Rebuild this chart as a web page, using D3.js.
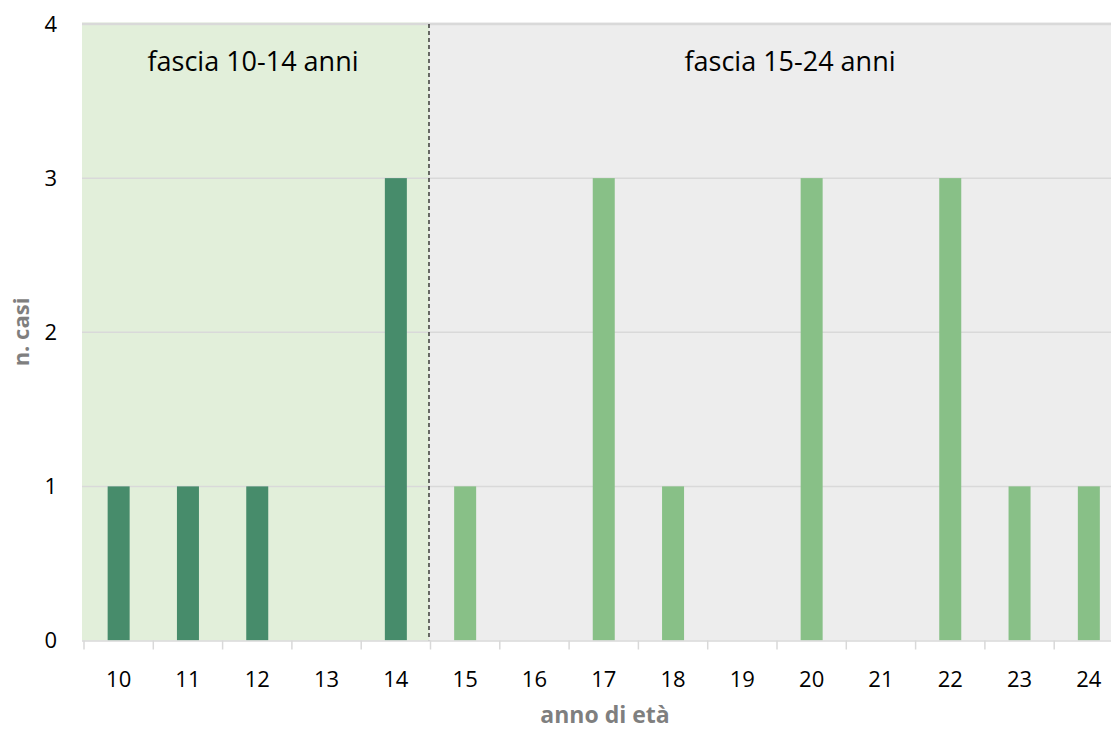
<!DOCTYPE html>
<html>
<head>
<meta charset="utf-8">
<script src="https://cdn.jsdelivr.net/npm/d3@7"></script>
<style>
  html, body { margin: 0; padding: 0; background: #fff; }
  svg { display: block; }
  text { font-family: "Open Sans", "Noto Sans", sans-serif; }
</style>
</head>
<body>
<svg id="chart" width="1111" height="731"></svg>
<script>
const categories = ["10","11","12","13","14","15","16","17","18","19","20","21","22","23","24"];
const values = [1,1,1,0,3,1,0,3,1,0,3,0,3,1,1];
const groupYoung = ["10","11","12","13","14"];
const yTicks = [0,1,2,3,4];
const bandLabels = ["fascia 10-14 anni", "fascia 15-24 anni"];
const yTitle = "n. casi";
const xTitle = "anno di età";

const svg = d3.select("#chart");
const x = d3.scaleBand().domain(categories).range([84, 1123.5]).paddingInner(0).paddingOuter(0);
const y = d3.scaleLinear().domain([0, 4]).range([640.5, 24]);

const left = 82;
const split = x("15") - 1.5;
const right = 1111;

// background regions
svg.append("rect").attr("x", left).attr("y", y(4) - 1.5).attr("width", split - left).attr("height", y(0) - y(4) + 1.5).attr("fill", "#E2EFDA");
svg.append("rect").attr("x", split).attr("y", y(4) - 1.5).attr("width", right - split).attr("height", y(0) - y(4) + 1.5).attr("fill", "#EDEDED");

// gridlines
svg.append("g").selectAll("line").data(yTicks.filter(d => d > 0)).join("line")
  .attr("x1", left).attr("x2", right)
  .attr("y1", d => y(d)).attr("y2", d => y(d))
  .attr("stroke", "#D9D9D9").attr("stroke-width", d => d === 4 ? 2.5 : 1.5);

// bars
const bw = 22;
svg.append("g").selectAll("rect").data(categories.map((c, i) => ({c, v: values[i]}))).join("rect")
  .attr("x", d => x(d.c) + x.bandwidth() / 2 - bw / 2)
  .attr("width", bw)
  .attr("y", d => y(d.v))
  .attr("height", d => y(0) - y(d.v))
  .attr("fill", d => groupYoung.includes(d.c) ? "#478C6B" : "#88C087");

// dashed separator
svg.append("line").attr("x1", split).attr("x2", split).attr("y1", y(4)).attr("y2", y(0))
  .attr("stroke", "#111").attr("stroke-width", 1.2).attr("stroke-dasharray", "4,3");

// x axis
const xAxis = d3.axisBottom(x).tickSize(0);
const gx = svg.append("g").attr("transform", `translate(0,${y(0)})`).call(xAxis);
gx.select(".domain").remove();
gx.selectAll("text").attr("y", 46.5).attr("dy", 0).attr("font-size", 22).attr("fill", "#000").attr("font-family", "'Open Sans', sans-serif");
svg.append("line").attr("x1", left).attr("x2", right).attr("y1", y(0) + 0.5).attr("y2", y(0) + 0.5)
  .attr("stroke", "#D9D9D9").attr("stroke-width", 1.5);
const tickPos = categories.map(c => x(c)).concat([x(categories[categories.length - 1]) + x.bandwidth()]);
svg.append("g").selectAll("line").data(tickPos).join("line")
  .attr("x1", d => d).attr("x2", d => d).attr("y1", y(0)).attr("y2", y(0) + 9)
  .attr("stroke", "#D9D9D9").attr("stroke-width", 1.5);

// y axis labels
const yAxis = d3.axisLeft(y).tickValues(yTicks).tickSize(0).tickPadding(0).tickFormat(d3.format("d"));
const gy = svg.append("g").attr("transform", `translate(57,0)`).call(yAxis);
gy.select(".domain").remove();
gy.selectAll("text").attr("font-size", 22).attr("fill", "#000").attr("font-family", "'Open Sans', sans-serif");

// band labels
svg.append("text").attr("x", 253).attr("y", 71).attr("text-anchor", "middle").attr("font-size", 27).attr("fill", "#000").text(bandLabels[0]);
svg.append("text").attr("x", 790).attr("y", 71).attr("text-anchor", "middle").attr("font-size", 27).attr("fill", "#000").text(bandLabels[1]);

// axis titles
svg.append("text").attr("transform", "translate(29,332) rotate(-90)").attr("text-anchor", "middle")
  .attr("font-size", 22).attr("font-weight", "bold").attr("fill", "#7F7F7F").text(yTitle);
svg.append("text").attr("x", 605).attr("y", 723).attr("text-anchor", "middle")
  .attr("font-size", 23).attr("font-weight", "bold").attr("fill", "#7F7F7F").text(xTitle);
</script>
</body>
</html>
